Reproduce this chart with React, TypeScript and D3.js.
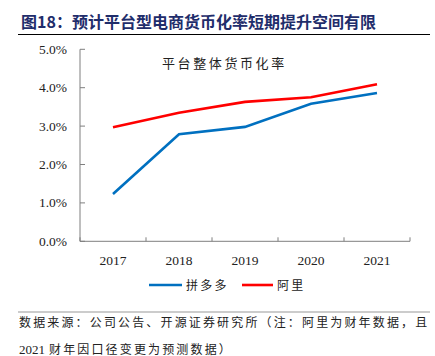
import React from "react";
import * as d3 from "d3";

const years = ["2017", "2018", "2019", "2020", "2021"];
const pdd = [1.23, 2.79, 2.98, 3.58, 3.86];
const ali = [2.97, 3.35, 3.63, 3.75, 4.09];
const yTicks = [0, 1, 2, 3, 4, 5];
const seriesNames = ["拼多多", "阿里"];
const seriesColors = ["#0070C0", "#FF0000"];

const W = 435, H = 356;
const left = 80, right = 410, top = 49.3, bottom = 241.3;

export default function App() {
  const x = d3.scaleBand<string>().domain(years).range([left, right]).padding(0);
  const y = d3.scaleLinear().domain([0, 5]).range([bottom, top]);
  const line = d3
    .line<number>()
    .x((_, i) => (x(years[i]) as number) + x.bandwidth() / 2)
    .y((d) => y(d));
  const serif = "'Liberation Serif', 'DejaVu Serif', serif";
  const cjk = "'Noto Sans CJK SC', sans-serif";
  const series = [pdd, ali];
  const tickXs = [left, ...years.map((yr) => (x(yr) as number) + x.bandwidth())];
  return (
    <svg width={W} height={H} style={{ position: "absolute", left: 0, top: 0, background: "#fff" }}>
      <text x={21} y={28} fontFamily={cjk} fontWeight={700} fontSize={16} fill="#1F2D6B">
        图18：预计平台型电商货币化率短期提升空间有限
      </text>
      <line x1={18} x2={430} y1={34.5} y2={34.5} stroke="#000" strokeWidth={1} />

      {/* y axis */}
      <line x1={left} x2={left} y1={top} y2={bottom} stroke="#7f7f7f" strokeWidth={1} />
      {yTicks.map((t) => (
        <g key={t}>
          <line x1={left} x2={left + 5} y1={y(t)} y2={y(t)} stroke="#7f7f7f" />
          <text x={67} y={y(t) + 4.5} textAnchor="end" fontFamily={serif} fontSize={13.5} fill="#222">
            {t.toFixed(1)}%
          </text>
        </g>
      ))}
      {/* x axis */}
      <line x1={left} x2={right} y1={bottom} y2={bottom} stroke="#7f7f7f" strokeWidth={1} />
      {tickXs.map((tx, i) => (
        <line key={i} x1={tx} x2={tx} y1={bottom} y2={bottom - 4} stroke="#7f7f7f" />
      ))}
      {years.map((yr) => (
        <text key={yr} x={(x(yr) as number) + x.bandwidth() / 2} y={265} textAnchor="middle" fontFamily={serif} fontSize={13.5} fill="#222">
          {yr}
        </text>
      ))}

      {series.map((s, i) => (
        <path key={i} d={line(s) || ""} fill="none" stroke={seriesColors[i]} strokeWidth={2.6} />
      ))}

      <text x={162} y={68} fontFamily={cjk} fontSize={13} letterSpacing={2.6} fill="#222">
        平台整体货币化率
      </text>

      {/* legend */}
      <line x1={149} x2={182} y1={285} y2={285} stroke={seriesColors[0]} strokeWidth={2.6} />
      <text x={186} y={290} fontFamily={cjk} fontSize={12} letterSpacing={2.2} fill="#222">{seriesNames[0]}</text>
      <line x1={242} x2={273} y1={285} y2={285} stroke={seriesColors[1]} strokeWidth={2.6} />
      <text x={277} y={290} fontFamily={cjk} fontSize={12} letterSpacing={2.2} fill="#222">{seriesNames[1]}</text>

      <line x1={18} x2={430} y1={312} y2={312} stroke="#999" strokeWidth={1.2} />
      <text x={19} y={327} fontFamily={cjk} fontSize={12} letterSpacing={2.15} fill="#222">
        数据来源：公司公告、开源证券研究所（注：阿里为财年数据，且
      </text>
      <text x={19} y={354} fontFamily={cjk} fontSize={12} fill="#222">
        <tspan fontFamily={serif} fontSize={13}>2021</tspan>
        <tspan dx={4} letterSpacing={2.15}>财年因口径变更为预测数据）</tspan>
      </text>
    </svg>
  );
}
